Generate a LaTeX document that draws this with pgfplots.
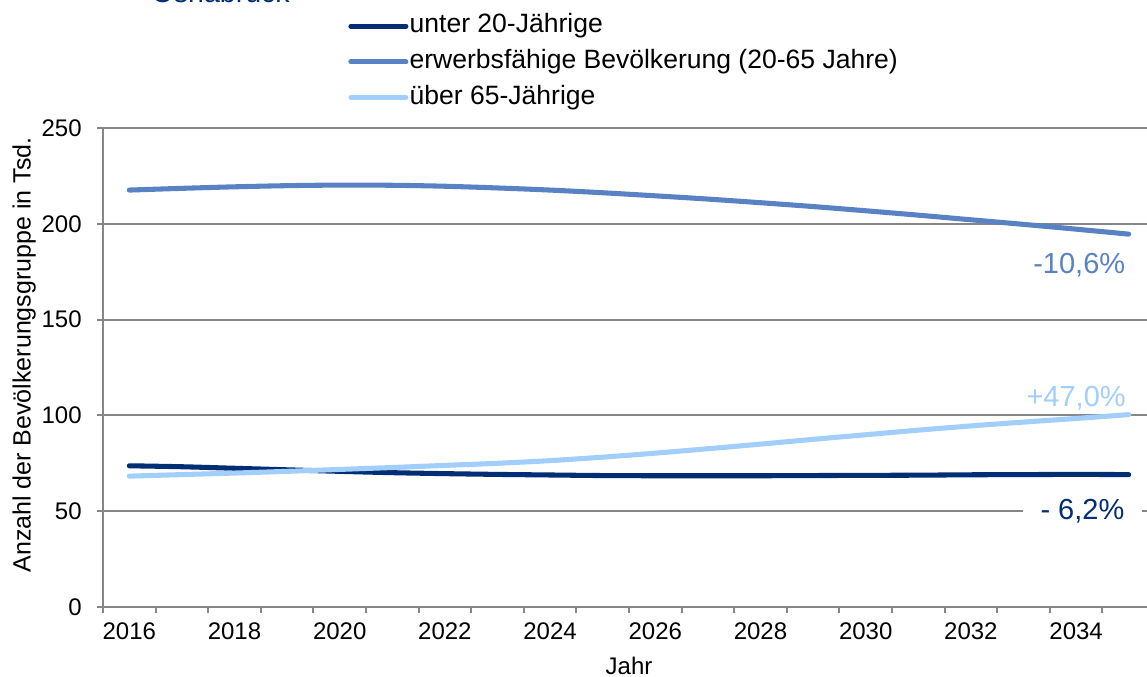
\documentclass[border=0pt]{standalone}
\usepackage{fontspec}
\setmainfont{Liberation Sans}
\usepackage{pgfplots}
\pgfplotsset{compat=1.18}

\definecolor{navy}{RGB}{0,46,116}
\definecolor{midblue}{RGB}{88,130,196}
\definecolor{lightblue}{RGB}{162,206,252}
\definecolor{gridgray}{RGB}{134,134,134}

% Bevölkerung nach Altersgruppen, in Tsd.
\pgfplotstableread{
jahr  unter20  erwerb  ueber65
2016  73.7  217.6  68.3
2017  73.2  218.5  69.1
2018  72.4  219.3  69.9
2019  71.6  219.9  70.8
2020  70.8  220.2  71.8
2021  70.1  220.1  72.8
2022  69.6  219.6  73.9
2023  69.2  218.7  75.0
2024  68.9  217.6  76.4
2025  68.6  216.2  78.2
2026  68.5  214.6  80.3
2027  68.5  212.9  82.6
2028  68.5  211.0  85.0
2029  68.6  209.0  87.5
2030  68.7  206.8  89.9
2031  68.8  204.5  92.3
2032  69.0  202.1  94.5
2033  69.1  199.7  96.5
2034  69.2  197.2  98.4
2035  69.1  194.6  100.4
}\bevoelkerung

\begin{document}
\begin{tikzpicture}
\useasboundingbox (-77.25pt,-52.5pt) rectangle (783pt,455.25pt);
\clip (-77.25pt,-52.5pt) rectangle (783pt,455.25pt);
\node[anchor=base west, text=navy, font=\fontsize{21.4}{25}\selectfont] at (33pt,453pt) {Osnabrück};
\begin{axis}[
  at={(0pt,0pt)}, anchor=south west,
  scale only axis, width=789pt, height=359.25pt,
  xmin=2015.5, xmax=2035.5, ymin=0, ymax=250,
  enlargelimits=false, clip=false,
  axis lines=left,
  axis line style={-, draw=gridgray, line width=1.5pt},
  ymajorgrids,
  grid style={draw=gridgray, line width=1.5pt},
  ytick={0,50,...,250},
  xtick={2016,2018,...,2034},
  minor xtick={2015.5,2016.5,...,2035.5},
  tick align=outside,
  major tick length=4.5pt, minor tick length=4.5pt,
  major x tick style={draw=none},
  major y tick style={draw=gridgray, line width=1.5pt},
  minor tick style={draw=gridgray, line width=1.5pt},
  /pgf/number format/assume math mode=true,
  /pgf/number format/1000 sep={},
  tick label style={font=\fontsize{18}{21}\selectfont},
  yticklabel style={xshift=-8pt},
  xticklabel style={yshift=-4pt},
  xlabel={Jahr},
  xlabel style={at={(axis description cs:0.5,-0.141)}, anchor=base, font=\fontsize{18}{21}\selectfont},
  ylabel={Anzahl der Bevölkerungsgruppe in Tsd.},
  ylabel style={at={(axis description cs:-0.075,0.526)}, anchor=center, font=\fontsize{18.75}{22}\selectfont},
  legend style={at={(axis description cs:0.2330,1.2503)}, anchor=north west,
    draw=none, fill=none, font=\fontsize{19.9}{24}\selectfont,
    inner sep=0pt, column sep=0.9pt, row sep=0pt,
    nodes={inner xsep=0pt, inner ysep=3.4pt, text height=15pt, text depth=5pt}},
  legend cell align=left,
  legend image code/.code={\draw[#1] (0pt,0pt) -- (41.25pt,0pt);},
  every axis plot/.append style={line width=3.8pt, line cap=round, smooth},
]
\addplot[navy] table[x=jahr, y=unter20] {\bevoelkerung};
\addlegendentry{unter 20-Jährige}
\addplot[midblue] table[x=jahr, y=erwerb] {\bevoelkerung};
\addlegendentry{erwerbsfähige Bevölkerung (20-65 Jahre)}
\addplot[lightblue] table[x=jahr, y=ueber65] {\bevoelkerung};
\addlegendentry{über 65-Jährige}

\node[text=midblue, font=\fontsize{21.75}{26}\selectfont] at (axis cs:2034.06,178.5) {-10,6\%};
\node[text=lightblue, font=\fontsize{21.75}{26}\selectfont] at (axis cs:2034.0,109.1) {+47,0\%};
\node[text=navy, fill=white, inner xsep=13.5pt, inner ysep=2pt, font=\fontsize{21.75}{26}\selectfont] at (axis cs:2034.12,50) {- 6,2\%};
\end{axis}
\end{tikzpicture}
\end{document}
